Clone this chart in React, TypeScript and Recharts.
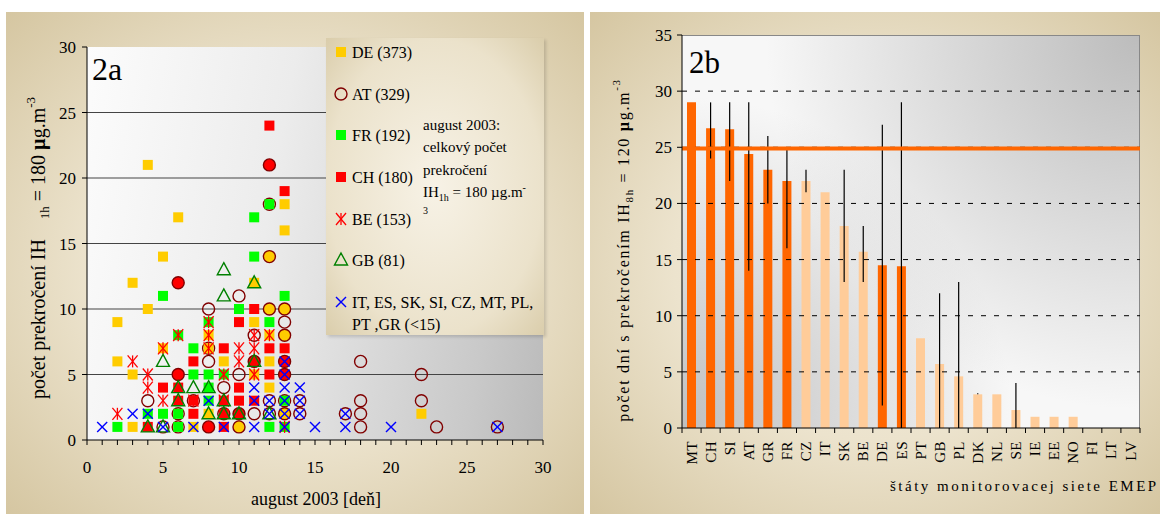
import React from 'react';
import {
  ScatterChart,
  Scatter,
  XAxis,
  YAxis,
  ReferenceLine,
  ComposedChart,
  Bar,
  Cell,
  ErrorBar,
} from 'recharts';

type Pt = [number, number];

// ---------- Graph 2a: [day of August 2003, number of exceedances] ----------
const DE_POINTS: Pt[] = [
  [2, 9], [2, 6], [3, 12], [3, 5], [3, 1], [4, 21], [4, 10], [5, 14], [5, 7], [6, 17],
  [7, 1], [8, 8], [8, 7], [8, 2], [9, 6], [11, 12], [11, 9], [11, 5], [12, 8], [12, 6],
  [12, 4], [13, 18], [13, 16], [22, 2],
];
const AT_POINTS: Pt[] = [
  [4, 3], [5, 1], [6, 2], [6, 1], [7, 3], [8, 10], [8, 7], [8, 6], [9, 4], [9, 2],
  [10, 11], [10, 5], [11, 8], [11, 2], [12, 18], [12, 3], [12, 2], [13, 9], [13, 3],
  [14, 3], [14, 2], [17, 2], [18, 6], [18, 3], [18, 2], [18, 1], [22, 5], [22, 3],
  [23, 1], [27, 1],
];
const AT_WITH_DE_POINTS: Pt[] = [[10, 1], [12, 14], [12, 10], [13, 10], [13, 8], [13, 2]];
const AT_WITH_CH_POINTS: Pt[] = [[6, 12], [6, 5], [8, 1], [10, 2], [11, 6], [12, 21], [13, 6], [13, 5]];
const FR_POINTS: Pt[] = [
  [2, 1], [4, 2], [5, 11], [5, 2], [6, 8], [6, 2], [6, 1], [7, 7], [7, 5], [8, 9],
  [8, 5], [8, 4], [8, 3], [9, 5], [10, 10], [11, 17], [11, 14], [12, 18], [12, 9],
  [12, 1], [13, 11], [13, 3], [13, 1],
];
const CH_POINTS: Pt[] = [
  [4, 1], [5, 4], [6, 4], [6, 3], [7, 6], [7, 3], [7, 2], [9, 7], [9, 3], [9, 2],
  [9, 1], [10, 9], [10, 4], [10, 3], [11, 10], [11, 3], [12, 24], [12, 7], [12, 5],
  [13, 19], [13, 7],
];
const BE_POINTS: Pt[] = [
  [2, 2], [3, 6], [4, 5], [4, 4], [5, 7], [5, 3], [6, 8], [7, 3], [8, 9], [8, 8],
  [8, 7], [9, 5], [9, 3], [10, 7], [10, 6], [11, 8], [11, 7], [11, 5], [12, 8], [13, 1],
];
const GB_POINTS: Pt[] = [
  [4, 1], [5, 6], [5, 1], [6, 4], [6, 3], [7, 4], [8, 4], [8, 2], [9, 13], [9, 11],
  [9, 3], [9, 2], [10, 2], [11, 12], [11, 6], [12, 2],
];
const OTHER_POINTS: Pt[] = [
  [1, 1], [3, 2], [4, 2], [5, 1], [7, 1], [8, 3], [9, 1], [11, 4], [11, 3], [11, 1],
  [12, 3], [12, 2], [13, 6], [13, 5], [13, 4], [13, 3], [13, 2], [13, 1], [14, 4],
  [14, 3], [14, 2], [15, 1], [17, 2], [17, 1], [20, 1], [27, 1],
];
const LEGEND_2A = ['DE (373)', 'AT (329)', 'FR (192)', 'CH (180)', 'BE (153)', 'GB (81)', 'IT, ES, SK, SI, CZ, MT, PL,', 'PT ,GR (<15)'];
const X_TICKS_2A = [0, 1, 2, 3, 4, 5, 6, 7, 8, 9, 10, 11, 12, 13, 14, 15, 16, 17, 18, 19, 20, 21, 22, 23, 24, 25, 26, 27, 28, 29, 30];
const Y_TICKS_2A = [0, 5, 10, 15, 20, 25, 30];
const GRID_2A = [5, 10, 15, 20, 25];

// ---------- Graph 2b ----------
const COUNTRIES = ['MT', 'CH', 'SI', 'AT', 'GR', 'FR', 'CZ', 'IT', 'SK', 'BE', 'DE', 'ES', 'PT', 'GB', 'PL', 'DK', 'NL', 'SE', 'IE', 'EE', 'NO', 'FI', 'LT', 'LV'];
const DAYS_2B = [29, 26.7, 26.6, 24.4, 23, 22, 22, 21, 18, 15.7, 14.5, 14.4, 8, 5.7, 4.6, 3, 3, 1.6, 1, 1, 1, 0, 0, 0];
const MIN_2B: (number | null)[] = [null, 24, 22, 14, 20, 16, 21, null, 13, 13, 2, 0, null, 0, 0, 3, null, 0, null, null, null, null, null, null];
const MAX_2B: (number | null)[] = [null, 29, 29, 29, 26, 24.8, 23, null, 23, 18, 27, 29, null, 12, 13, 3.1, null, 4, null, null, null, null, null, null];
const EXCEEDING_GROUP = ['MT', 'CH', 'SI', 'AT', 'GR', 'FR', 'DE', 'ES'];
const LIMIT_2B = 24.9;
const Y_TICKS_2B = [0, 5, 10, 15, 20, 25, 30, 35];
const GRID_2B = [5, 10, 15, 20, 25, 30];

const FONT = 'Liberation Serif, Tinos, Times New Roman, DejaVu Serif, serif';
const BEIGE = 'radial-gradient(ellipse at 50% 50%, #f5efe2 0%, #ece3cd 50%, #d5c6a1 100%)';

const toXY = (pts: Pt[]) => pts.map(([x, y]) => ({ x, y }));

const squareShape = (fill: string) => (p: any) =>
  p.cx == null ? <g /> : <rect x={p.cx - 5} y={p.cy - 5} width={10} height={10} fill={fill} />;
const ringShape = (fill: string) => (p: any) =>
  p.cx == null ? <g /> : <circle cx={p.cx} cy={p.cy} r={6} fill={fill} stroke="#800000" strokeWidth={1.4} />;
const triangleShape = (p: any) =>
  p.cx == null ? <g /> : (
    <path d={`M${p.cx},${p.cy - 7}L${p.cx + 6.5},${p.cy + 5}L${p.cx - 6.5},${p.cy + 5}Z`} fill="none" stroke="#008000" strokeWidth={1.4} />
  );
const starShape = (p: any) =>
  p.cx == null ? <g /> : (
    <g stroke="#FF0000" strokeWidth={1.3}>
      <line x1={p.cx - 5} y1={p.cy - 6} x2={p.cx + 5} y2={p.cy + 6} />
      <line x1={p.cx - 5} y1={p.cy + 6} x2={p.cx + 5} y2={p.cy - 6} />
      <line x1={p.cx} y1={p.cy - 6} x2={p.cx} y2={p.cy + 6} />
    </g>
  );
const crossShape = (p: any) =>
  p.cx == null ? <g /> : (
    <g stroke="#0000FF" strokeWidth={1.4}>
      <line x1={p.cx - 5} y1={p.cy - 5} x2={p.cx + 5} y2={p.cy + 5} />
      <line x1={p.cx - 5} y1={p.cy + 5} x2={p.cx + 5} y2={p.cy - 5} />
    </g>
  );

const BAND_2B = 458 / COUNTRIES.length;

const CountryTick = (props: any) => {
  const { x, y, payload, index } = props;
  const last = index === COUNTRIES.length - 1;
  return (
    <g>
      <line x1={x - BAND_2B / 2} y1={y} x2={x - BAND_2B / 2} y2={y + 5} stroke="#000" />
      {last && <line x1={x + BAND_2B / 2} y1={y} x2={x + BAND_2B / 2} y2={y + 5} stroke="#000" />}
      <text
        x={x}
        y={y + 13}
        transform={`rotate(-90, ${x}, ${y + 13})`}
        textAnchor="end"
        dy="0.34em"
        fontSize={15}
        fontFamily={FONT}
        fill="#000"
        letterSpacing={0.5}
      >
        {payload.value}
      </text>
    </g>
  );
};

export default function App() {
  const data2b = COUNTRIES.map((c, i) => ({
    country: c,
    days: DAYS_2B[i],
    err:
      MIN_2B[i] == null || MAX_2B[i] == null
        ? undefined
        : [DAYS_2B[i] - (MIN_2B[i] as number), (MAX_2B[i] as number) - DAYS_2B[i]],
  }));

  const legendShapes = [
    squareShape('#FFCC00'),
    ringShape('none'),
    squareShape('#00FF00'),
    squareShape('#FF0000'),
    starShape,
    triangleShape,
    crossShape,
  ];
  const legendBase = [58, 100, 141, 183, 225, 266, 308];

  const axisTick = { fill: '#000', fontSize: 17, fontFamily: FONT };

  return (
    <div style={{ position: 'absolute', left: 0, top: 0, width: 1160, height: 514, background: '#fff', overflow: 'hidden', fontFamily: FONT }}>
      <div style={{ position: 'absolute', left: 6, top: 12, width: 578, height: 502, background: BEIGE }} />
      <div style={{ position: 'absolute', left: 590, top: 12, width: 570, height: 502, background: BEIGE }} />
      <div
        style={{
          position: 'absolute', left: 87, top: 47, width: 456, height: 393,
          background: 'linear-gradient(100deg, #fcfcfc 0%, #ececec 40%, #c9c9c9 85%, #bababa 100%)',
        }}
      />
      <div
        style={{
          position: 'absolute', left: 682, top: 35, width: 458, height: 393, boxSizing: 'border-box',
          borderTop: '1px solid #888', borderRight: '1px solid #888',
          background:
            'radial-gradient(circle at 100% 0%, #bcbcbc 0%, rgba(188,188,188,0) 62%), radial-gradient(circle at 0% 100%, #bfbfbf 0%, rgba(191,191,191,0) 55%), #f7f7f7',
        }}
      />

      <div style={{ position: 'absolute', left: 0, top: 0 }}>
        <ScatterChart width={580} height={514} margin={{ top: 47, right: 37, bottom: 40, left: 47 }}>
          <XAxis
            dataKey="x"
            type="number"
            domain={[0, 30]}
            ticks={X_TICKS_2A}
            interval={0}
            height={34}
            tickSize={5}
            tickMargin={16}
            tickFormatter={(v: number) => (v % 5 === 0 ? String(v) : '')}
            tick={axisTick}
            axisLine={{ stroke: '#000' }}
            tickLine={{ stroke: '#000' }}
          />
          <YAxis
            dataKey="y"
            type="number"
            domain={[0, 30]}
            ticks={Y_TICKS_2A}
            interval={0}
            width={40}
            tickSize={5}
            tickMargin={6}
            tick={axisTick}
            axisLine={{ stroke: '#000' }}
            tickLine={{ stroke: '#000' }}
          />
          {GRID_2A.map((v) => (
            <ReferenceLine key={v} y={v} stroke="#444" strokeWidth={1.2} />
          ))}
          <Scatter name="AT" data={toXY(AT_POINTS)} shape={ringShape('none')} isAnimationActive={false} legendType="none" />
          <Scatter name="DE" data={toXY(DE_POINTS)} shape={squareShape('#FFCC00')} isAnimationActive={false} legendType="none" />
          <Scatter name="CH" data={toXY(CH_POINTS)} shape={squareShape('#FF0000')} isAnimationActive={false} legendType="none" />
          <Scatter name="FR" data={toXY(FR_POINTS)} shape={squareShape('#00FF00')} isAnimationActive={false} legendType="none" />
          <Scatter name="AT+DE" data={toXY(AT_WITH_DE_POINTS)} shape={ringShape('#FFCC00')} isAnimationActive={false} legendType="none" />
          <Scatter name="AT+CH" data={toXY(AT_WITH_CH_POINTS)} shape={ringShape('#FF0000')} isAnimationActive={false} legendType="none" />
          <Scatter name="BE" data={toXY(BE_POINTS)} shape={starShape} isAnimationActive={false} legendType="none" />
          <Scatter name="GB" data={toXY(GB_POINTS)} shape={triangleShape} isAnimationActive={false} legendType="none" />
          <Scatter name="other" data={toXY(OTHER_POINTS)} shape={crossShape} isAnimationActive={false} legendType="none" />
        </ScatterChart>
      </div>

      <div style={{ position: 'absolute', left: 590, top: 0 }}>
        <ComposedChart width={570} height={514} data={data2b} margin={{ top: 35, right: 20, bottom: 36, left: 52 }}>
          <XAxis
            dataKey="country"
            type="category"
            interval={0}
            height={50}
            tickSize={0}
            tickMargin={0}
            tickLine={false}
            tick={<CountryTick />}
            axisLine={{ stroke: '#000' }}
          />
          <YAxis
            type="number"
            domain={[0, 35]}
            ticks={Y_TICKS_2B}
            interval={0}
            width={40}
            tickSize={5}
            tickMargin={5}
            tick={axisTick}
            axisLine={{ stroke: '#000' }}
            tickLine={{ stroke: '#000' }}
          />
          {GRID_2B.map((v) => (
            <ReferenceLine key={v} y={v} stroke="#000" strokeDasharray="5 8" strokeWidth={1} />
          ))}
          <Bar dataKey="days" barSize={9} isAnimationActive={false}>
            {data2b.map((d) => (
              <Cell key={d.country} fill={EXCEEDING_GROUP.includes(d.country) ? '#FF6600' : '#FFCC99'} />
            ))}
            <ErrorBar dataKey="err" width={0} stroke="#000" strokeWidth={1.2} />
          </Bar>
          <ReferenceLine y={LIMIT_2B} stroke="#FF6600" strokeWidth={4} />
        </ComposedChart>
      </div>

      <div
        style={{
          position: 'absolute', left: 326, top: 38, width: 218, height: 297,
          background: 'radial-gradient(ellipse at 50% 50%, #f7f2e6 0%, #ebe2cb 70%, #dacdab 100%)',
          boxShadow: '2px 2px 3px rgba(0,0,0,0.15)',
        }}
      />

      <svg width={1160} height={514} style={{ position: 'absolute', left: 0, top: 0, pointerEvents: 'none' }} fontFamily={FONT}>
        <text x={92} y={80} fontSize={32} fill="#000">2a</text>
        <text x={689} y={73} fontSize={31} fill="#000">2b</text>

        <text transform="translate(45, 248) rotate(-90)" textAnchor="middle" fontSize={20} fill="#000">
          počet prekročení IH
          <tspan dx={20} dy={4} fontSize={13}>1h</tspan>
          <tspan dy={-4}> = 180 </tspan>
          <tspan fontWeight="bold">µ</tspan>
          <tspan>g.m</tspan>
          <tspan dy={-10} fontSize={13}>-3</tspan>
        </text>
        <text x={316} y={505} textAnchor="middle" fontSize={18} fill="#000">august 2003 [deň]</text>

        <text transform="translate(629, 250) rotate(-90)" textAnchor="middle" fontSize={16} letterSpacing={1.7} fill="#000">
          počet dní s prekročením IH
          <tspan dy={4} fontSize={11}>8h</tspan>
          <tspan dy={-4}> = 120 </tspan>
          <tspan fontWeight="bold">µ</tspan>
          <tspan>g.m</tspan>
          <tspan dy={-9} fontSize={11}>-3</tspan>
        </text>
        <text x={890} y={491} fontSize={15} letterSpacing={2.5} fill="#000">štáty monitorovacej siete EMEP</text>

        {legendShapes.map((fn, i) => (
          <g key={i}>{fn({ cx: 341, cy: legendBase[i] - 6 })}</g>
        ))}
        {legendBase.map((b, i) => (
          <text key={i} x={352} y={b} fontSize={16} fill="#000">{LEGEND_2A[i]}</text>
        ))}
        <text x={352} y={330} fontSize={16} fill="#000">{LEGEND_2A[7]}</text>

        <g fontSize={15} fill="#000">
          <text x={423} y={130}>august 2003:</text>
          <text x={423} y={152}>celkový počet</text>
          <text x={423} y={175}>prekročení</text>
          <text x={423} y={197}>
            IH<tspan dy={4} fontSize={10}>1h</tspan>
            <tspan dy={-4}> = 180 µg.m</tspan>
            <tspan dy={-6} fontSize={10}>-</tspan>
          </text>
          <text x={423} y={214} fontSize={10}>3</text>
        </g>
      </svg>
    </div>
  );
}
